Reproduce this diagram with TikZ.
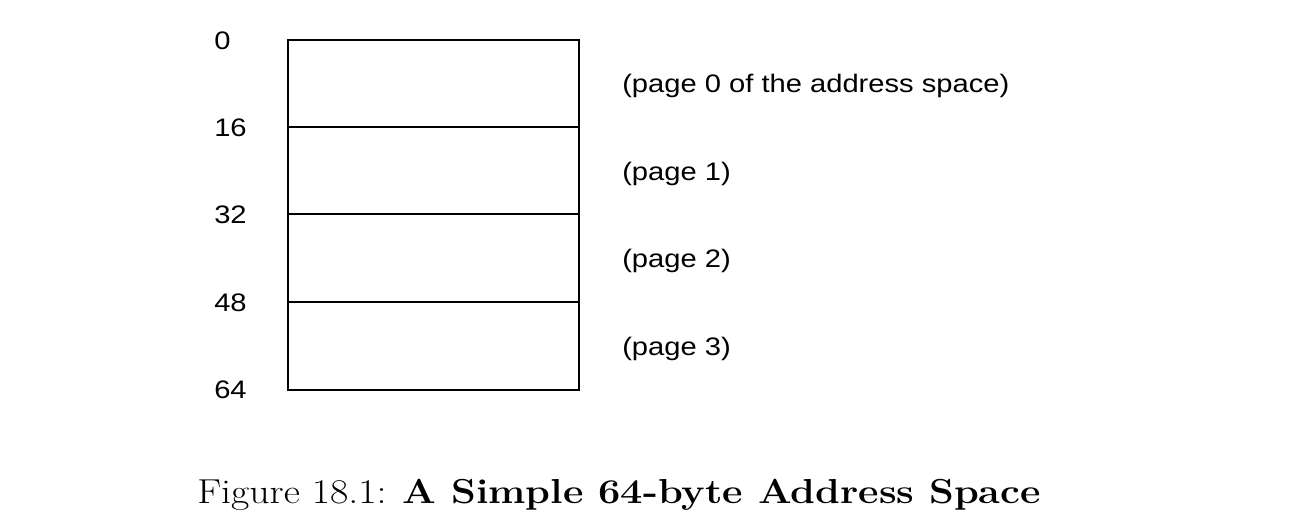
\documentclass[tikz,border=0pt]{standalone}
\usepackage{fontspec}
\newfontfamily\labelfont{Liberation Sans}
\begin{document}
\begin{tikzpicture}[x=0.75pt,y=-0.75pt,
  seg/.style={draw=black,line width=1.7pt},
  addr/.style={anchor=base west,inner sep=0pt,font=\labelfont\fontsize{19pt}{21pt}\selectfont},
  pagelbl/.style={anchor=base west,inner sep=0pt,font=\labelfont\fontsize{19pt}{21pt}\selectfont},
  captext/.style={anchor=base west,inner sep=0pt,font=\fontsize{26pt}{30pt}\selectfont}]
\useasboundingbox (0,0) rectangle (1300,530);
% box
\node[seg,minimum width=291*0.75pt,minimum height=350*0.75pt,inner sep=0pt,anchor=north west] (box) at (287,39) {};
\coordinate (l16) at (287,127); \coordinate (r16) at (578,127);
\coordinate (l32) at (287,214); \coordinate (r32) at (578,214);
\coordinate (l48) at (287,302); \coordinate (r48) at (578,302);
\draw[seg] (l16) -- (r16);
\draw[seg] (l32) -- (r32);
\draw[seg] (l48) -- (r48);
% addresses
\node[addr] (a0) at (214,50) {\scalebox{1.15}[1]{0}};
\node[addr] (a16) at (214,137) {\scalebox{1.15}[1]{16}};
\node[addr] (a32) at (214,224) {\scalebox{1.15}[1]{32}};
\node[addr] (a48) at (214,312) {\scalebox{1.15}[1]{48}};
\node[addr] (a64) at (214,399) {\scalebox{1.15}[1]{64}};
% page labels
\node[pagelbl] (p0) at (622,93) {\scalebox{1.15}[1]{(page 0 of the address space)}};
\node[pagelbl] (p1) at (622,181) {\scalebox{1.15}[1]{(page 1)}};
\node[pagelbl] (p2) at (622,268) {\scalebox{1.15}[1]{(page 2)}};
\node[pagelbl] (p3) at (622,356) {\scalebox{1.15}[1]{(page 3)}};
% caption
\node[captext] (caption) at (197,504) {\scalebox{1.147}[1]{Figure 18.1: \textbf{A Simple 64-byte Address Space}}};
\end{tikzpicture}
\end{document}
